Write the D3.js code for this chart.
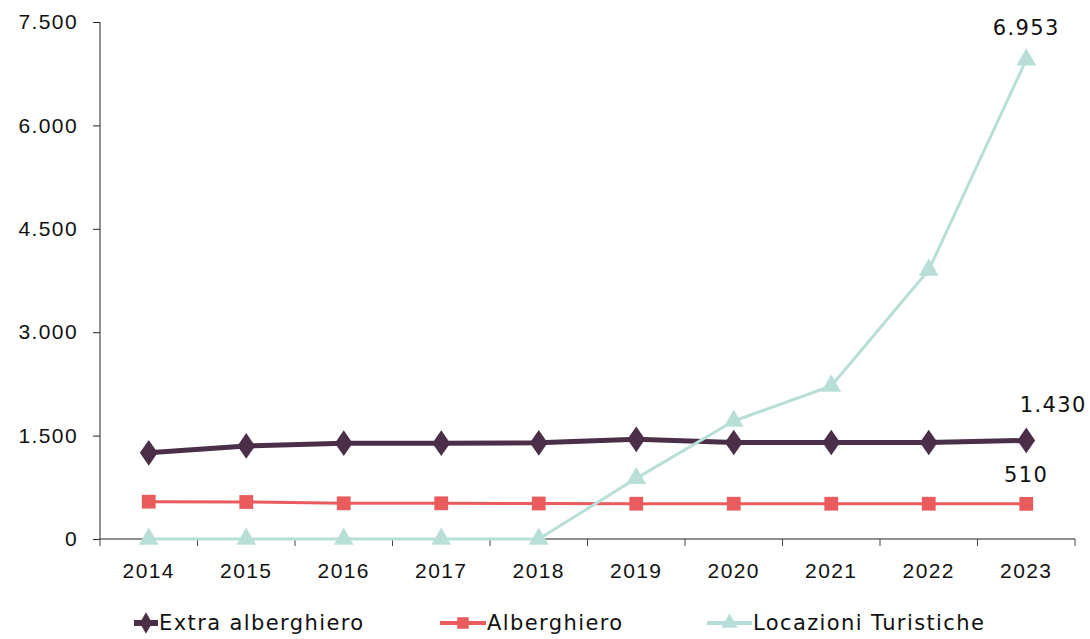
<!DOCTYPE html>
<html><head><meta charset="utf-8">
<script src="https://cdn.jsdelivr.net/npm/d3@7"></script>
<style>body{margin:0;background:#fff}svg{display:block;font-family:"DejaVu Sans","Noto Sans",sans-serif}text{letter-spacing:1.4px}</style>
</head><body><svg id="c" width="1090" height="639"></svg>
<script>
const years = ["2014","2015","2016","2017","2018","2019","2020","2021","2022","2023"];
const extraAlberghiero = [1250,1350,1390,1390,1395,1446,1400,1400,1400,1430];
const alberghiero = [541,537,518,518,515,512,512,512,512,510];
const locazioniTuristiche = [0,0,0,0,0,880,1712,2220,3902,6953];
const yTicks = [0,1500,3000,4500,6000,7500];
const seriesNames = ["Extra alberghiero","Alberghiero","Locazioni Turistiche"];
const colors = ["#4b2e48","#ea5b5e","#b8dfd7"];

const svg = d3.select("#c");
const x = d3.scaleBand().domain(years).range([100,1075]);
const y = d3.scaleLinear().domain([0,7500]).range([539,22]);
const fmt = v => d3.format(",")(v).replace(/,/g,".");
const FS = 21;

// y axis
const ya = svg.append("g").attr("transform","translate(100,0)")
  .call(d3.axisLeft(y).tickValues(yTicks).tickFormat(fmt).tickSize(7));
ya.selectAll("text").attr("font-size",FS).attr("fill","#111").attr("dy","0.32em").attr("x",-22).attr("text-anchor","end");
ya.selectAll("line,path").attr("stroke","#222");
ya.select(".domain").attr("d","M0,22V539");

// x axis
const xa = svg.append("g").attr("transform","translate(0,539)")
  .call(d3.axisBottom(x).tickSize(0).tickPadding(24));
xa.selectAll("text").attr("font-size",FS).attr("fill","#111");
xa.select(".domain").attr("stroke","#222").attr("d","M100,0H1075");
const bounds = years.map(d=>x(d)).concat([1075]);
xa.selectAll("line.b").data(bounds).join("line").attr("class","b")
  .attr("x1",d=>d).attr("x2",d=>d).attr("y1",0).attr("y2",7).attr("stroke","#444");

const cx = d => x(d)+x.bandwidth()/2;
const line = d3.line().x((d,i)=>cx(years[i])).y(d=>y(d));
const data = [extraAlberghiero, alberghiero, locazioniTuristiche];
const widths = [5,3,3];

const sym = [d3.symbolDiamond, d3.symbolSquare, d3.symbolTriangle];
const symSize = [190,190,170];

data.forEach((s,k)=>{
  svg.append("path").datum(s).attr("d",line).attr("fill","none")
    .attr("stroke",colors[k]).attr("stroke-width",widths[k]).attr("stroke-linejoin","round");
});
data.forEach((s,k)=>{
  svg.append("g").selectAll("path").data(s).join("path")
    .attr("transform",(d,i)=>`translate(${cx(years[i])},${y(d)})` + (k===0?" scale(1.2,1)":""))
    .attr("d",d3.symbol().type(sym[k]).size(symSize[k]))
    .attr("fill",colors[k]);
});

// data labels
const last = years[years.length-1];
svg.append("text").attr("x",cx(last)).attr("y",y(6953)-25).attr("text-anchor","middle").attr("font-size",FS).attr("fill","#111").text(fmt(6953));
svg.append("text").attr("x",cx(last)+27).attr("y",y(1430)-28).attr("text-anchor","middle").attr("font-size",FS).attr("fill","#111").text(fmt(1430));
svg.append("text").attr("x",cx(last)).attr("y",y(510)-22).attr("text-anchor","middle").attr("font-size",FS).attr("fill","#111").text(fmt(510));

// legend
const leg = [{x0:134,x1:158},{x0:440,x1:486},{x0:707,x1:752}];
leg.forEach((l,k)=>{
  const g = svg.append("g");
  g.append("line").attr("x1",l.x0).attr("x2",l.x1).attr("y1",623).attr("y2",623)
    .attr("stroke",colors[k]).attr("stroke-width",widths[k]+1);
  g.append("path").attr("transform",`translate(${(l.x0+l.x1)/2},623)`)
    .attr("d",d3.symbol().type(sym[k]).size(symSize[k]*0.7)).attr("fill",colors[k]);
  g.append("text").attr("x",l.x1+1).attr("y",623).attr("dy","0.35em").attr("font-size",FS).attr("fill","#111").text(seriesNames[k]);
});
</script></body></html>
